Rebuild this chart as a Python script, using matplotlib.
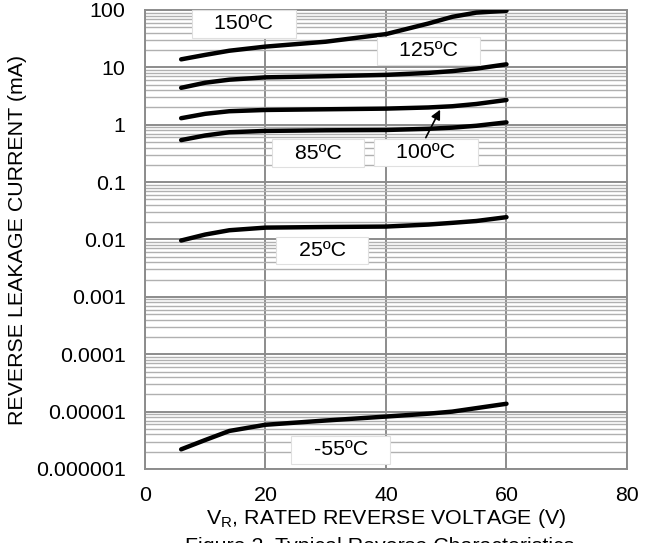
import matplotlib
matplotlib.use("Agg")
import matplotlib.pyplot as plt
import numpy as np
from matplotlib.ticker import FixedLocator, LogLocator, NullFormatter

plt.rcParams['font.family'] = ['Liberation Sans', 'DejaVu Sans']

# reverse voltage (V) sample points along each curve
volts = [6, 10, 14, 20, 30, 40, 47, 51, 55, 60]

# leakage current (mA)
i_150 = [13.8, 16.5, 19.5, 23, 28, 38, 58, 76, 90, 97]
i_125 = [4.4, 5.4, 6.1, 6.7, 7.0, 7.4, 8.0, 8.6, 9.5, 11.3]
i_100 = [1.3, 1.55, 1.72, 1.81, 1.86, 1.91, 2.0, 2.1, 2.3, 2.7]
i_85 = [0.54, 0.65, 0.74, 0.78, 0.8, 0.81, 0.85, 0.89, 0.96, 1.1]
i_25 = [0.0096, 0.0122, 0.0145, 0.0161, 0.0165, 0.0168, 0.0182, 0.0195, 0.021, 0.0245]
i_m55 = [2.2e-6, 3.2e-6, 4.6e-6, 5.9e-6, 7.0e-6, 8.2e-6, 9.2e-6, 1.0e-5, 1.15e-5, 1.37e-5]

curves = [i_150, i_125, i_100, i_85, i_25, i_m55]

# label text and where its box sits (V, mA)
labels = ['150ºC', '125ºC', '85ºC', '100ºC', '25ºC', '-55ºC']
label_v = [16.4, 47.1, 28.7, 46.6, 29.4, 32.5]
label_i = [57, 19.3, 0.32, 0.33, 0.00645, 2.16e-6]

y_ticks = [1e-6, 1e-5, 1e-4, 1e-3, 1e-2, 1e-1, 1, 10, 100]
y_tick_labels = ['0.000001', '0.00001', '0.0001', '0.001', '0.01', '0.1', '1', '10', '100']
x_ticks = [0, 20, 40, 60, 80]

fs = 15.4

fig = plt.figure(figsize=(6.57, 5.43), dpi=100)
ax = fig.add_axes([0.2207, 0.1363, 0.7336, 0.8453])

ax.set_yscale('log')
ax.set_ylim(1e-6, 100)
ax.set_xlim(0, 80)

ax.yaxis.set_major_locator(FixedLocator(y_ticks))
ax.set_yticklabels(y_tick_labels)
ax.yaxis.set_minor_locator(LogLocator(base=10, subs=np.arange(2, 10), numticks=20))
ax.yaxis.set_minor_formatter(NullFormatter())
ax.set_xticks(x_ticks)

ax.grid(True, which='major', axis='both', color='#8c8c8c', linewidth=1.4)
ax.grid(True, which='minor', axis='y', color='#b0b0b0', linewidth=1.0)
ax.set_axisbelow(True)
ax.tick_params(which='both', length=0, labelsize=fs)
ax.tick_params(axis='y', pad=14)
ax.tick_params(axis='x', pad=12)

for sp in ax.spines.values():
    sp.set_color('#8c8c8c')
    sp.set_linewidth(1.4)

for vals in curves:
    ax.plot(volts, vals, color='black', linewidth=3.2, solid_capstyle='round', zorder=3)

for txt, lv, li in zip(labels, label_v, label_i):
    ax.text(lv, li, '   ' + txt + '   ', ha='center', va='center', fontsize=fs, zorder=4,
            bbox=dict(boxstyle='square,pad=0.2', facecolor='white', edgecolor='#e0e0e0', linewidth=0.8))

# arrow from the 100ºC label to its curve
ax.annotate('', xy=(49.2, 2.02), xytext=(46.4, 0.54),
            arrowprops=dict(arrowstyle='-|>', color='black', lw=1.2, mutation_scale=14), zorder=5)

ax.set_ylabel('REVERSE LEAKAGE CURRENT (mA)', fontsize=fs, labelpad=6)
ax.set_xlabel(r'V$_\mathregular{R}$, RATED REVERSE VOLTAGE (V)', fontsize=fs, labelpad=2)
fig.text(0.578, -0.006, 'Figure 2. Typical Reverse Characteristics', ha='center', va='center', fontsize=fs)

fig.savefig('out.png', dpi=100)
